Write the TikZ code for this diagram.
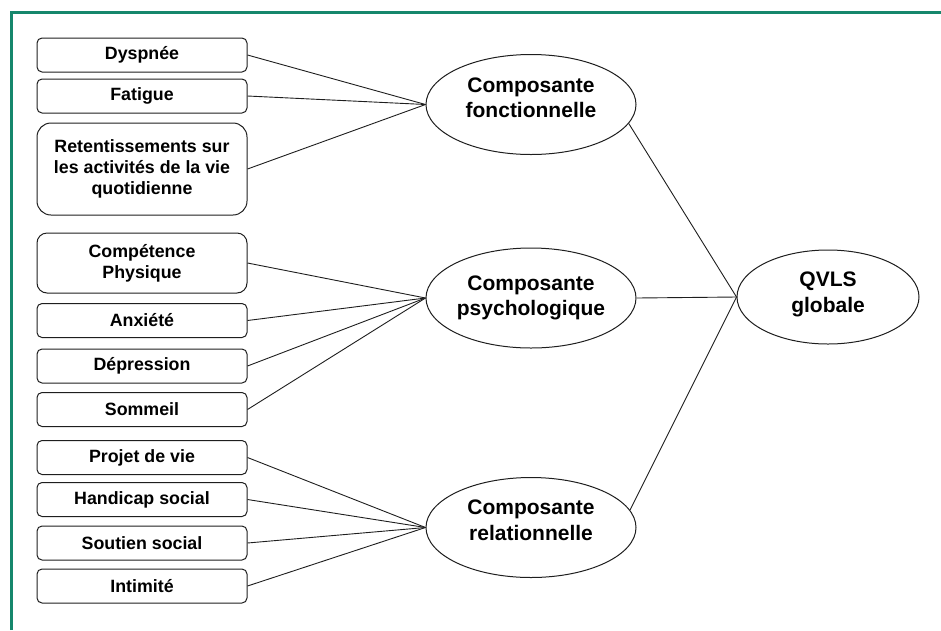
\documentclass[tikz,border=0pt]{standalone}
\usepackage{fontspec}
\setmainfont{Liberation Sans}
\usetikzlibrary{shapes.geometric}
\definecolor{framegreen}{RGB}{22,135,108}
\definecolor{ink}{RGB}{30,30,30}
\newcommand\lowdepth[1]{\rule[-#1]{0pt}{#1}}
\begin{document}
\begin{tikzpicture}[x=1pt,y=-1pt,
  box/.style={draw=ink, line width=1pt, rounded corners=5pt, minimum width=210pt,
    minimum height=34pt, inner sep=0pt, align=center,
    font=\fontsize{17.8}{21}\selectfont\bfseries},
  comp/.style={draw=ink, line width=1pt, ellipse, minimum width=210pt,
    minimum height=100pt, inner sep=0pt, align=center,
    font=\fontsize{21}{25.5}\selectfont\bfseries},
  link/.style={draw=ink, line width=0.9pt}]
\useasboundingbox (0,0) rectangle (941,630);
\draw[framegreen, line width=2.5pt] (11.5,630) -- (11.5,12.5) -- (941,12.5);

% left boxes
\node[box] (dys) at (142,55) {Dyspnée};
\node[box] (fat) at (142,96) {Fatigue};
\node[box, minimum height=92pt, rounded corners=14pt] (ret) at (142,169)
  {Retentissements sur\\les activités de la vie\\quotidienne};
\node[box, minimum height=60pt, rounded corners=10pt] (cph) at (142,263)
  {Compétence\\Physique};
\node[box] (anx) at (142,320.5) {Anxiété};
\node[box] (dep) at (142,366) {Dépression};
\node[box] (som) at (142,409.5) {Sommeil};
\node[box] (pro) at (142,457.5) {Projet de vie};
\node[box] (han) at (142,499.5) {Handicap social};
\node[box] (sou) at (142,543) {Soutien social};
\node[box] (int) at (142,586) {Intimité};

% ellipses
\node[comp] (fonc) at (531,104.5) {Composante\\fonctionnelle\lowdepth{14pt}};
\node[comp] (psy) at (531,298) {Composante\\psychologique};
\node[comp] (rel) at (531,527.5) {Composante\\relationnelle\lowdepth{15pt}};
\node[comp, minimum width=182pt, minimum height=94pt] (qvls) at (828,297)
  {QVLS\\globale\lowdepth{10pt}};

% connectors
\foreach \n in {dys,fat,ret} \draw[link] (\n.east) -- (fonc.west);
\foreach \n in {cph,anx,dep,som} \draw[link] (\n.east) -- (psy.west);
\foreach \n in {pro,han,sou,int} \draw[link] (\n.east) -- (rel.west);
\draw[link] (fonc.-11) -- (qvls.west);
\draw[link] (psy.east) -- (qvls.west);
\draw[link] (rel.10) -- (qvls.west);
\end{tikzpicture}
\end{document}
